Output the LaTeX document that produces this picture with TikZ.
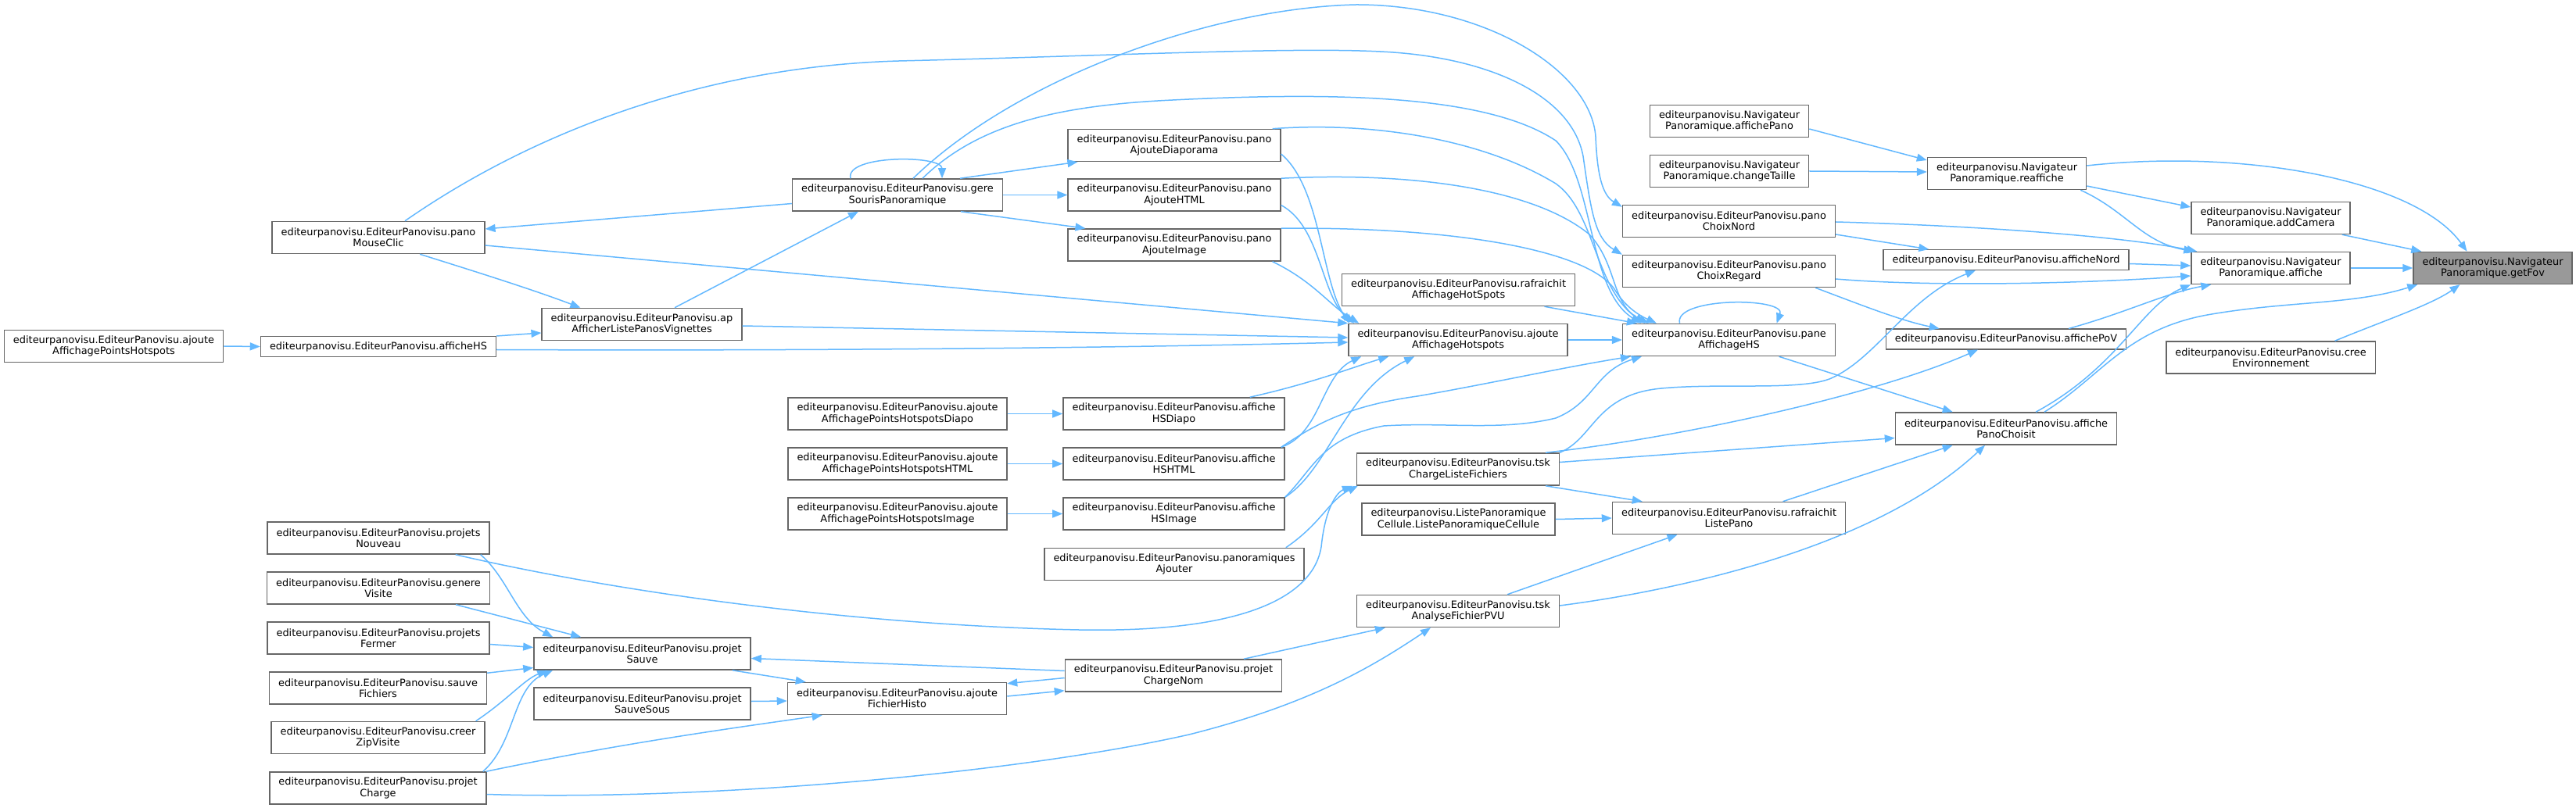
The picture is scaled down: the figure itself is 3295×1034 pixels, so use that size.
\documentclass[tikz,border=0pt]{standalone}
\usepackage{fontspec}
\usepackage{tikz}
\usetikzlibrary{arrows.meta,calc}
\newfontfamily\dejavu{DejaVu Sans}
\definecolor{edgeblue}{HTML}{63B8FF}
\definecolor{boxline}{HTML}{666666}
\definecolor{rootfill}{HTML}{999999}

\begin{document}
\begin{tikzpicture}[
      x=0.01cm,
      y=-0.01cm,
      fn/.style={
        draw=boxline,
        line width=0.015cm,
        fill=white,
        align=center,
        inner xsep=0.115cm,
        inner ysep=0.06cm,
        minimum height=0.41cm,
        font=\dejavu\fontsize{3.67pt}{4.07pt}\selectfont
      },
      fnone/.style={fn, minimum height=0.255cm},
      root/.style={fn, fill=rootfill},
      caller/.style={draw=edgeblue, line width=0.015cm, -{Triangle[length=0.13cm,width=0.1cm]}}
    ]
    \useasboundingbox (0,0) rectangle (3295,1034);

    \node[root] (getfov) at (3188.5,343) {editeurpanovisu.Navigateur\\Panoramique.getFov};
    \node[fn] (addcamera) at (2904.5,279) {editeurpanovisu.Navigateur\\Panoramique.addCamera};
    \node[fn] (affiche) at (2904.5,343) {editeurpanovisu.Navigateur\\Panoramique.affiche};
    \node[fn] (creeenv) at (2904.5,457.5) {editeurpanovisu.EditeurPanovisu.cree\\Environnement};
    \node[fn] (reaffiche) at (2567,222) {editeurpanovisu.Navigateur\\Panoramique.reaffiche};
    \node[fnone] (affnord) at (2566,332.5) {editeurpanovisu.EditeurPanovisu.afficheNord};
    \node[fnone] (affpov) at (2566,434) {editeurpanovisu.EditeurPanovisu.affichePoV};
    \node[fn] (panochoisit) at (2566,548.5) {editeurpanovisu.EditeurPanovisu.affiche\\PanoChoisit};

    \node[fn] (affpano) at (2212,155) {editeurpanovisu.Navigateur\\Panoramique.affichePano};
    \node[fn] (changetaille) at (2212,219) {editeurpanovisu.Navigateur\\Panoramique.changeTaille};
    \node[fn] (choixnord) at (2211.5,283) {editeurpanovisu.EditeurPanovisu.pano\\ChoixNord};
    \node[fn] (choixregard) at (2211.5,347) {editeurpanovisu.EditeurPanovisu.pano\\ChoixRegard};
    \node[fn] (pane) at (2211.5,435) {editeurpanovisu.EditeurPanovisu.pane\\AffichageHS};
    \node[fn] (rafrliste) at (2211.5,663) {editeurpanovisu.EditeurPanovisu.rafraichit\\ListePano};

    \node[fn] (rafrhs) at (1865.5,371) {editeurpanovisu.EditeurPanovisu.rafraichit\\AffichageHotSpots};
    \node[fn] (ajouteaffhs) at (1865,435) {editeurpanovisu.EditeurPanovisu.ajoute\\AffichageHotspots};
    \node[fn] (tskcharge) at (1865,600.5) {editeurpanovisu.EditeurPanovisu.tsk\\ChargeListeFichiers};
    \node[fn] (listecellule) at (1865.5,664.5) {editeurpanovisu.ListePanoramique\\Cellule.ListePanoramiqueCellule};
    \node[fn] (tskanalyse) at (1865,782) {editeurpanovisu.EditeurPanovisu.tsk\\AnalyseFichierPVU};

    \node[fn] (ajdiapo) at (1502,186) {editeurpanovisu.EditeurPanovisu.pano\\AjouteDiaporama};
    \node[fn] (ajhtml) at (1502,249.5) {editeurpanovisu.EditeurPanovisu.pano\\AjouteHTML};
    \node[fn] (ajimage) at (1502,313.5) {editeurpanovisu.EditeurPanovisu.pano\\AjouteImage};
    \node[fn] (hsdiapo) at (1501.5,529.5) {editeurpanovisu.EditeurPanovisu.affiche\\HSDiapo};
    \node[fn] (hshtml) at (1501.5,593.5) {editeurpanovisu.EditeurPanovisu.affiche\\HSHTML};
    \node[fn] (hsimage) at (1501.5,657.5) {editeurpanovisu.EditeurPanovisu.affiche\\HSImage};
    \node[fn] (panosajouter) at (1502,722) {editeurpanovisu.EditeurPanovisu.panoramiques\\Ajouter};
    \node[fn] (chargenom) at (1501,864.5) {editeurpanovisu.EditeurPanovisu.projet\\ChargeNom};

    \node[fn] (gere) at (1148,249.5) {editeurpanovisu.EditeurPanovisu.gere\\SourisPanoramique};
    \node[fn] (ptsdiapo) at (1148,529.5) {editeurpanovisu.EditeurPanovisu.ajoute\\AffichagePointsHotspotsDiapo};
    \node[fn] (ptshtml) at (1148,593.5) {editeurpanovisu.EditeurPanovisu.ajoute\\AffichagePointsHotspotsHTML};
    \node[fn] (ptsimage) at (1148,657.5) {editeurpanovisu.EditeurPanovisu.ajoute\\AffichagePointsHotspotsImage};
    \node[fn] (fichhisto) at (1147.5,894) {editeurpanovisu.EditeurPanovisu.ajoute\\FichierHisto};

    \node[fn] (apafficher) at (821,415) {editeurpanovisu.EditeurPanovisu.ap\\AfficherListePanosVignettes};
    \node[fn] (sauve) at (821.5,836.5) {editeurpanovisu.EditeurPanovisu.projet\\Sauve};
    \node[fn] (sauvesous) at (821.5,900.5) {editeurpanovisu.EditeurPanovisu.projet\\SauveSous};

    \node[fn] (mouseclic) at (484,304) {editeurpanovisu.EditeurPanovisu.pano\\MouseClic};
    \node[fnone] (affichehs) at (484,443.5) {editeurpanovisu.EditeurPanovisu.afficheHS};
    \node[fn] (nouveau) at (484,688.5) {editeurpanovisu.EditeurPanovisu.projets\\Nouveau};
    \node[fn] (generevisite) at (484,752.5) {editeurpanovisu.EditeurPanovisu.genere\\Visite};
    \node[fn] (fermer) at (484,816.5) {editeurpanovisu.EditeurPanovisu.projets\\Fermer};
    \node[fn] (sauvefich) at (483.5,880.5) {editeurpanovisu.EditeurPanovisu.sauve\\Fichiers};
    \node[fn] (zipvisite) at (483.5,944) {editeurpanovisu.EditeurPanovisu.creer\\ZipVisite};
    \node[fn] (projcharge) at (483.5,1008.5) {editeurpanovisu.EditeurPanovisu.projet\\Charge};

    \node[fn] (ptshs) at (145.5,443) {editeurpanovisu.EditeurPanovisu.ajoute\\AffichagePointsHotspots};

    \draw[caller] ($(reaffiche.east)+(0,-10)$) .. controls (2870,190) and (3090,230) .. ($(getfov.north)+(-33,0)$);
    \draw[caller] ($(addcamera.south east)+(-11,0)$) -- ($(getfov.north west)+(11,0)$);
    \draw[caller] (affiche.east) -- (getfov.west);
    \draw[caller] ($(panochoisit.north)+(49,0)$) .. controls (2690,480) and (2720,420) .. (2829,402)
      .. controls (2930,385) and (3010,390) .. ($(getfov.south west)+(6,0)$);
    \draw[caller] ($(creeenv.north)+(82,0)$) .. controls (3050,410) and (3110,390) .. ($(getfov.south)+(-42,0)$);

    \draw[caller] ($(reaffiche.south east)+(-8,0)$) .. controls (2720,270) and (2740,310) .. ($(affiche.north west)+(4,0)$);
    \draw[caller] ($(reaffiche.east)+(0,16)$) -- ($(addcamera.west)+(0,-14)$);
    \draw[caller] ($(choixnord.east)+(0,1)$) .. controls (2500,288) and (2700,300) .. ($(affiche.north west)+(8,0)$);
    \draw[caller] ($(affnord.east)+(0,5)$) -- ($(affiche.west)+(0,-3)$);
    \draw[caller] ($(choixregard.east)+(0,10)$) .. controls (2480,368) and (2680,362) .. ($(affiche.west)+(0,10)$);
    \draw[caller] ($(affpov.north)+(80,0)$) .. controls (2720,400) and (2770,375) .. ($(affiche.south west)+(26,0)$);
    \draw[caller] ($(panochoisit.north)+(38,0)$) .. controls (2710,470) and (2740,390) .. (affiche.south west);

    \draw[caller] ($(affpano.east)+(0,10)$) -- ($(reaffiche.west)+(0,-17)$);
    \draw[caller] (changetaille.east) -- ($(reaffiche.west)+(0,-2)$);
    \draw[caller] ($(choixnord.east)+(0,17)$) -- ($(affnord.north west)+(59,0)$);
    \draw[caller] ($(choixregard.south east)+(-26,0)$) .. controls (2380,390) and (2430,410) .. ($(affpov.north west)+(69,0)$);
    \draw[caller] (tskcharge.north east) .. controls (2040,560) and (2040,505) .. (2125,497)
      .. controls (2200,490) and (2300,500) .. (2340,485)
      .. controls (2400,460) and (2440,380) .. ($(affnord.south)+(-39,0)$);
    \draw[caller] ($(tskcharge.north east)+(-18,0)$) .. controls (2150,560) and (2400,505) .. ($(affpov.south)+(-36,0)$);
    \draw[caller] ($(tskcharge.east)+(0,-9)$) -- ($(panochoisit.west)+(0,12)$);
    \draw[caller] ($(tskcharge.south east)+(-18,0)$) -- ($(rafrliste.north west)+(39,0)$);
    \draw[caller] ($(pane.south)+(64,0)$) -- ($(panochoisit.north west)+(74,0)$);
    \draw[caller] ($(rafrliste.north)+(69,0)$) -- ($(panochoisit.south west)+(74,0)$);
    \draw[caller] ($(tskanalyse.east)+(0,-7)$) .. controls (2150,755) and (2400,700) .. ($(panochoisit.south)+(-27,0)$);
    \draw[caller] ($(tskanalyse.north)+(63,0)$) -- ($(rafrliste.south)+(-66,0)$);
    \draw[caller] (listecellule.east) -- (rafrliste.west);

    \draw[caller] (ajouteaffhs.east) -- (pane.west);
    \draw[caller] ($(rafrhs.south)+(110,0)$) -- ($(pane.north west)+(19,0)$);
    \draw[caller] ($(pane.north)+(-63,0)$) .. controls (2140,380) and (2285,380) .. ($(pane.north)+(61,0)$);
    \draw[caller] ($(hshtml.north east)+(-5,0)$) .. controls (1680,545) and (1720,520) .. (1813,507)
      .. controls (1900,492) and (2000,470) .. ($(pane.south west)+(11,0)$);
    \draw[caller] (hsimage.north east) .. controls (1680,600) and (1690,560) .. (1770,545)
      .. controls (1850,540) and (1920,552) .. (1990,535)
      .. controls (2040,515) and (2040,475) .. ($(pane.south west)+(25,0)$);
    \draw[caller] ($(hshtml.north east)+(-5,0)$) .. controls (1690,555) and (1690,480) .. ($(ajouteaffhs.south west)+(17,0)$);
    \draw[caller] (hsimage.north east) .. controls (1700,600) and (1720,500) .. ($(ajouteaffhs.south west)+(85,0)$);
    \draw[caller] ($(hsdiapo.north east)+(-45,0)$) .. controls (1680,490) and (1730,470) .. ($(ajouteaffhs.south west)+(52,0)$);
    \draw[caller] ($(ajdiapo.east)+(0,11)$) .. controls (1690,240) and (1690,360) .. ($(ajouteaffhs.north west)+(2,0)$);
    \draw[caller] ($(ajhtml.east)+(0,13)$) .. controls (1690,290) and (1690,380) .. ($(ajouteaffhs.north west)+(8,0)$);
    \draw[caller] ($(ajimage.south east)+(-11,0)$) .. controls (1680,360) and (1700,390) .. ($(ajouteaffhs.north west)+(14,0)$);
    \draw[caller] ($(mouseclic.east)+(0,10)$) -- (ajouteaffhs.north west);
    \draw[caller] ($(apafficher.east)+(0,2)$) -- ($(ajouteaffhs.west)+(0,-3)$);
    \draw[caller] ($(affichehs.east)+(0,4)$) .. controls (1000,449) and (1400,446) .. ($(ajouteaffhs.west)+(0,3)$);

    \draw[caller] ($(ajdiapo.north east)+(-11,0)$) .. controls (1760,155) and (1900,180) .. (1990,235)
      .. controls (2040,270) and (2040,370) .. ($(pane.north west)+(29,0)$);
    \draw[caller] (ajhtml.north east) .. controls (1800,220) and (1960,240) .. (2033,300)
      .. controls (2070,340) and (2060,390) .. ($(pane.north west)+(34,0)$);
    \draw[caller] (ajimage.north east) .. controls (1860,290) and (2030,320) .. (2065,370)
      .. controls (2080,395) and (2100,405) .. ($(pane.north west)+(44,0)$);
    \draw[caller] ($(gere.north)+(20,0)$) .. controls (1300,100) and (1550,10) .. (1735,6)
      .. controls (1900,6) and (2035,90) .. (2041,175)
      .. controls (2043,225) and (2050,250) .. ($(choixnord.north west)+(0,3)$);
    \draw[caller] ($(mouseclic.north)+(34,0)$) .. controls (680,170) and (900,85) .. (1150,78)
      .. controls (1400,72) and (1650,60) .. (1765,66)
      .. controls (1900,72) and (2010,120) .. (2025,200)
      .. controls (2035,270) and (2040,305) .. (choixregard.north west);
    \draw[caller] ($(gere.north)+(32,0)$) .. controls (1250,160) and (1350,135) .. (1500,128)
      .. controls (1700,118) and (1900,120) .. (1990,180)
      .. controls (2040,230) and (2030,370) .. ($(pane.north west)+(24,0)$);

    \draw[caller] ($(gere.north)+(-60,0)$) .. controls (1080,198) and (1205,198) .. ($(gere.north)+(57,0)$);
    \draw[caller] ($(gere.north east)+(-55,0)$) -- ($(ajdiapo.south west)+(13,0)$);
    \draw[caller] (gere.east) -- (ajhtml.west);
    \draw[caller] ($(gere.south east)+(-54,0)$) -- ($(ajimage.north west)+(23,0)$);
    \draw[caller] ($(gere.west)+(0,11)$) -- ($(mouseclic.east)+(0,-11)$);
    \draw[caller] ($(mouseclic.south)+(53,0)$) .. controls (600,345) and (680,370) .. ($(apafficher.north west)+(50,0)$);
    \draw[caller] ($(apafficher.north)+(42,0)$) -- ($(gere.south west)+(85,0)$);
    \draw[caller] (affichehs.north east) -- ($(apafficher.west)+(0,11)$);
    \draw[caller] (ptshs.east) -- (affichehs.west);
    \draw[caller] (ptsdiapo.east) -- (hsdiapo.west);
    \draw[caller] (ptshtml.east) -- (hshtml.west);
    \draw[caller] (ptsimage.east) -- (hsimage.west);

    \draw[caller] ($(panosajouter.north east)+(-24,0)$) .. controls (1690,670) and (1700,640) .. ($(tskcharge.south west)+(2,0)$);
    \draw[caller] ($(nouveau.south east)+(-44,0)$) .. controls (800,760) and (1100,800) .. (1380,806)
      .. controls (1600,810) and (1680,760) .. (1690,700)
      .. controls (1695,650) and (1710,630) .. ($(tskcharge.south west)+(-5,0)$);
    \draw[caller] ($(nouveau.south east)+(-12,0)$) .. controls (650,740) and (660,790) .. ($(sauve.north west)+(25,0)$);
    \draw[caller] ($(generevisite.south east)+(-44,0)$) -- ($(sauve.north west)+(61,0)$);
    \draw[caller] ($(fermer.east)+(0,8)$) -- ($(sauve.west)+(0,-8)$);
    \draw[caller] ($(sauvefich.north east)+(0,2)$) -- ($(sauve.west)+(0,18)$);
    \draw[caller] ($(zipvisite.north east)+(-12,0)$) .. controls (650,895) and (670,870) .. ($(sauve.south west)+(18,0)$);
    \draw[caller] ($(projcharge.north east)+(-5,0)$) .. controls (660,950) and (655,880) .. ($(sauve.south west)+(25,0)$);
    \draw[caller] ($(sauve.south east)+(-24,0)$) -- ($(fichhisto.north west)+(24,0)$);
    \draw[caller] ($(sauvesous.east)+(0,-3)$) -- ($(fichhisto.west)+(0,3)$);
    \draw[caller] ($(projcharge.north east)+(-1,0)$) .. controls (800,950) and (950,930) .. ($(fichhisto.south west)+(45,0)$);
    \draw[caller] ($(projcharge.east)+(0,8)$) .. controls (900,1025) and (1300,990) .. (1521,940)
      .. controls (1680,900) and (1760,850) .. ($(tskanalyse.south)+(-35,0)$);
    \draw[caller] ($(chargenom.north)+(90,0)$) -- ($(tskanalyse.south west)+(37,0)$);
    \draw[caller] ($(chargenom.west)+(0,-6)$) -- ($(sauve.east)+(0,6)$);
    \draw[caller] ($(chargenom.west)+(0,3)$) -- ($(fichhisto.north east)+(0,2)$);
    \draw[caller] ($(fichhisto.east)+(0,-3)$) -- ($(chargenom.south west)+(0,-2)$);
  \end{tikzpicture}
\end{document}
